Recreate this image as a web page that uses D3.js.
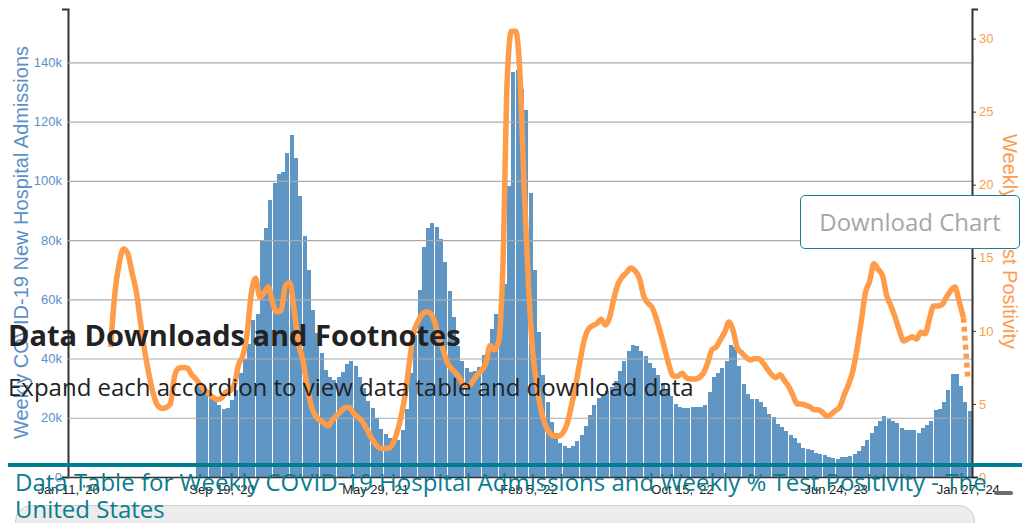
<!DOCTYPE html>
<meta charset="utf-8">
<style>
body { margin: 0; background: #fff; }
#wrap { position: relative; width: 1029px; height: 523px; overflow: hidden; }
svg { position: absolute; left: 0; top: 0; }
.axis text { font: 13px "Liberation Sans", Arial, sans-serif; }
.axis path { stroke: #333; stroke-width: 2px; }
.yleft .tick line { stroke: #aaa; stroke-width: 1.2px; }
.yleft text { fill: #5b8fc7; }
.yright text { fill: #fe9c4d; }
.yright line { stroke: #333; }
.xaxis text { fill: #222; }
.xaxis path { stroke-width: 1.5px; }
.title { font: 20px "Liberation Sans", Arial, sans-serif; }
.bar { fill: #6096c4; shape-rendering: crispEdges; }
.pos { fill: none; stroke: #fe9c4a; stroke-width: 5.5px; stroke-linejoin: round; }
.over { position: absolute; font-family: "Open Sans", sans-serif; white-space: nowrap; }
</style>
<body>
<div id="wrap"></div>
<script src="https://cdn.jsdelivr.net/npm/d3@7"></script>
<script>

// weekly categories: Jan 11, 2020 .. Jan 27, 2024
var firstWeek = new Date(2020, 0, 11);
var weekCount = 212;
var admissionsStart = 30;   // Aug 8, 2020
var positivityStart = 10;   // Mar 21, 2020
var tickWeeks = [0, 36, 72, 108, 144, 180, 211];
var admissionsMax = 158000;  // top of left axis

// weekly new hospital admissions, thousands
var admissionsK = [
  32.5, 31.4, 29.8, 28.1, 26.4, 24.4, 23.0, 23.4, 26.0, 29.5,
  35.0, 40.0, 45.0, 53.0, 55.0, 80.0, 84.0, 93.6, 99.3, 102.4,
  103.0, 109.5, 115.6, 107.8, 95.0, 81.4, 69.8, 56.3, 48.5, 41.7,
  36.0, 33.6, 32.9, 33.6, 35.3, 38.3, 39.3, 37.6, 33.6, 30.2,
  25.8, 23.4, 20.0, 16.3, 14.5, 13.3, 12.4, 12.5, 16.0, 23.0,
  35.0, 48.0, 63.3, 77.5, 84.0, 85.7, 84.3, 80.2, 72.7, 62.7,
  54.0, 44.1, 39.3, 36.8, 35.4, 35.9, 37.3, 41.3, 43.5, 49.8,
  55.0, 54.6, 65.0, 98.1, 136.6, 137.5, 131.0, 124.0, 95.8, 69.8,
  48.9, 34.6, 25.2, 18.4, 15.0, 11.6, 10.3, 9.9, 10.5, 12.2,
  14.2, 17.3, 20.9, 24.4, 26.7, 28.0, 29.2, 30.5, 32.5, 35.7,
  39.3, 42.5, 44.7, 44.1, 42.7, 41.0, 38.4, 36.8, 34.5, 31.6,
  29.7, 27.5, 24.6, 23.7, 23.2, 23.2, 23.5, 23.7, 23.8, 24.3,
  28.8, 33.7, 35.0, 36.8, 39.3, 44.4, 43.8, 37.6, 31.4, 28.0,
  26.3, 26.3, 25.2, 23.7, 21.2, 20.1, 17.9, 16.9, 15.6, 14.2,
  13.1, 11.6, 9.9, 9.4, 9.0, 8.2, 7.7, 7.5, 6.6, 6.3,
  6.0, 6.6, 6.6, 7.1, 7.7, 8.8, 10.5, 12.4, 14.7, 17.3,
  19.0, 20.7, 19.6, 19.0, 18.1, 16.7, 15.8, 15.8, 15.8, 15.0,
  16.5, 17.6, 19.0, 22.6, 22.9, 25.2, 29.4, 34.8, 34.8, 30.8,
  25.4, 22.4
];

// weekly % test positivity
var positivity = [
  8.9, 12.6, 14.6, 15.6, 15.3, 14.0, 12.7, 10.6, 8.6, 7.0,
  5.7, 4.9, 4.7, 4.75, 5.0, 6.9, 7.45, 7.5, 7.45, 7.0,
  6.7, 6.3, 6.0, 5.7, 5.45, 5.3, 5.4, 5.8, 5.9, 6.3,
  7.7, 8.3, 9.8, 12.6, 13.6, 12.3, 12.6, 13.0, 11.9, 11.3,
  11.4, 13.1, 13.3, 11.5, 9.2, 8.1, 6.4, 4.9, 4.2, 3.9,
  3.7, 3.5, 3.9, 4.2, 4.5, 4.75, 4.75, 4.35, 4.1, 3.8,
  3.3, 2.75, 2.3, 2.0, 1.95, 1.96, 2.2, 2.9, 4.0, 5.5,
  7.7, 9.8, 10.6, 11.1, 11.3, 11.2, 10.6, 9.5, 8.7, 7.8,
  7.4, 7.1, 6.7, 6.2, 6.2, 6.6, 7.0, 7.3, 7.8, 9.0,
  8.7, 9.3, 14.5, 27.2, 30.5, 30.5, 27.5, 19.6, 13.1, 8.5,
  6.2, 4.5, 3.5, 3.0, 2.8, 2.8, 3.0, 3.6, 4.8, 6.2,
  7.8, 9.3, 10.1, 10.35, 10.5, 10.8, 10.4, 10.9, 12.2, 13.2,
  13.7, 14.0, 14.3, 14.1, 13.6, 12.4, 11.9, 11.6, 10.8, 9.8,
  8.7, 7.6, 6.9, 6.9, 7.1, 6.8, 6.7, 6.7, 6.8, 7.1,
  7.8, 8.7, 8.9, 9.4, 9.9, 10.6, 10.0, 8.8, 8.5, 8.2,
  8.0, 8.1, 8.1, 7.8, 7.4, 7.0, 6.8, 7.0, 6.6, 6.2,
  5.6, 5.0, 5.0, 4.9, 4.8, 4.6, 4.6, 4.4, 4.15, 4.3,
  4.55, 4.8, 5.6, 6.3, 7.2, 8.7, 10.6, 12.6, 13.4, 14.6,
  14.2, 13.8, 12.4, 11.7, 10.9, 10.0, 9.3, 9.45, 9.6, 9.45,
  9.9, 9.8, 10.8, 11.7, 11.7, 11.8, 12.3, 12.75, 13.0, 12.0,
  10.9, 6.8
];

var width = 1029, height = 523;
var plotLeft = 68, plotRight = 972, plotTop = 9, plotBottom = 477;

var weeks = d3.range(weekCount).map(function(i) { return d3.timeDay.offset(firstWeek, 7 * i); });

var adm = admissionsK.map(function(v, i) { return {date: weeks[admissionsStart + i], value: v * 1000}; });
var pos = positivity.map(function(v, i) { return {date: weeks[positivityStart + i], value: v}; });

var x = d3.scaleTime()
    .domain([weeks[0], d3.timeDay.offset(weeks[weekCount - 1], 7)])
    .range([plotLeft, plotRight]);

var yL = d3.scaleLinear()
    .domain([0, admissionsMax])
    .range([plotBottom, plotTop]);

var yR = d3.scaleLinear()
    .domain([0, d3.max(pos, function(d) { return d.value; }) * 1.05])
    .range([plotBottom, plotTop]);

var svg = d3.select("#wrap").append("svg")
    .attr("width", width)
    .attr("height", height);

// bars
svg.append("g").selectAll("rect")
    .data(adm)
  .enter().append("rect")
    .attr("class", "bar")
    .attr("x", function(d) { return x(d.date); })
    .attr("width", function(d) { return Math.floor(x(d3.timeDay.offset(d.date, 7)) - x(d.date)); })
    .attr("y", function(d) { return yL(d.value); })
    .attr("height", function(d) { return plotBottom - yL(d.value); });

// left axis + grid (drawn over the bars)
svg.append("g")
    .attr("class", "axis yleft")
    .attr("transform", "translate(" + plotLeft + ",0)")
    .call(d3.axisLeft(yL).ticks(8).tickFormat(d3.format("~s"))
      .tickSizeInner(-(plotRight - plotLeft)).tickSizeOuter(6).tickPadding(6));

// positivity line, last week dotted
var line = d3.line()
    .curve(d3.curveMonotoneX)
    .x(function(d) { return x(d.date); })
    .y(function(d) { return yR(d.value); });

svg.append("path")
    .datum(pos.slice(0, pos.length - 1))
    .attr("class", "pos")
    .attr("d", line);

svg.append("path")
    .datum(pos.slice(pos.length - 2))
    .attr("class", "pos")
    .attr("stroke-dasharray", "5,4")
    .attr("d", line);

svg.append("g")
    .attr("class", "axis yright")
    .attr("transform", "translate(" + plotRight + ",0)")
    .call(d3.axisRight(yR).ticks(6).tickSizeInner(4).tickSizeOuter(6).tickPadding(3));

svg.append("g")
    .attr("class", "axis xaxis")
    .attr("transform", "translate(0," + plotBottom + ")")
    .call(d3.axisBottom(x)
      .tickValues(tickWeeks.map(function(i) { return weeks[i]; }))
      .tickFormat(d3.timeFormat("%b %-d, '%y"))
      .tickSize(0).tickPadding(8));

svg.append("text")
    .attr("class", "title")
    .attr("transform", "translate(28,242.5) rotate(-90)")
    .attr("text-anchor", "middle")
    .attr("fill", "#5b8fc7")
    .text("Weekly COVID-19 New Hospital Admissions");

svg.append("text")
    .attr("class", "title")
    .attr("transform", "translate(1003,241.5) rotate(90)")
    .attr("text-anchor", "middle")
    .attr("fill", "#fe9c4d")
    .text("Weekly % Test Positivity");

// page content lying over the chart
var wrap = d3.select("#wrap");

wrap.append("div").attr("class", "over")
    .style("left", "800px").style("top", "195px")
    .style("width", "218px").style("height", "52px")
    .style("border", "1.5px solid #1a7f90").style("border-radius", "5px")
    .style("background", "#fff").style("color", "#a6a6a6")
    .style("font-size", "24px").style("line-height", "52px").style("text-align", "center")
    .text("Download Chart");

wrap.append("div").attr("class", "over")
    .style("left", "8px").style("top", "320px")
    .style("font-size", "29px").style("font-weight", "700").style("line-height", "1")
    .style("color", "#222")
    .text("Data Downloads and Footnotes");

wrap.append("div").attr("class", "over")
    .style("left", "8px").style("top", "375px")
    .style("font-size", "24px").style("line-height", "1")
    .style("color", "#222")
    .text("Expand each accordion to view data table and download data");

wrap.append("div").attr("class", "over")
    .style("left", "8px").style("top", "463px")
    .style("width", "1014px").style("height", "4px")
    .style("background", "#007c91");

wrap.append("div").attr("class", "over")
    .style("left", "15px").style("top", "505px")
    .style("width", "958px").style("height", "40px")
    .style("background", "#ececec").style("border", "1px solid #cfcfcf")
    .style("border-radius", "16px");

wrap.append("div").attr("class", "over")
    .style("left", "994px").style("top", "491px")
    .style("width", "19px").style("height", "4px")
    .style("background", "#6b6b6b").style("border-radius", "2px");

wrap.append("div").attr("class", "over")
    .style("left", "15px").style("top", "469px")
    .style("width", "1005px").style("white-space", "normal")
    .style("font-size", "24px").style("line-height", "26.6px")
    .style("color", "#0b7c8e")
    .text("Data Table for Weekly COVID-19 Hospital Admissions and Weekly % Test Positivity - The United States");

</script>
